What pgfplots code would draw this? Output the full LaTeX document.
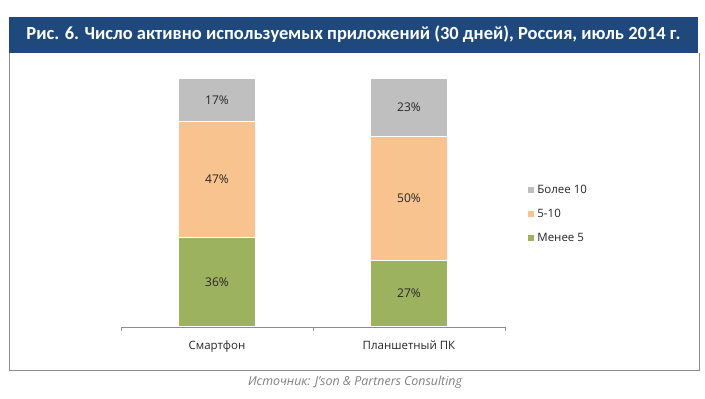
\documentclass[border=0pt]{standalone}
\usepackage{pgfplots}
\pgfplotsset{compat=1.18}
\usepackage{fontspec}
\setmainfont{Open Sans}
\newfontfamily\titlefont{Carlito}
\definecolor{titleblue}{HTML}{1F497D}
\definecolor{cgreen}{HTML}{9DB25F}
\definecolor{corange}{HTML}{F9C38F}
\definecolor{cgray}{HTML}{BFBFBF}
\definecolor{framegray}{HTML}{8C8C8C}
\definecolor{txt}{HTML}{262626}
\begin{document}
\begin{tikzpicture}[x=1pt,y=1pt]
\fill[white] (0,0) rectangle (705,399);
\useasboundingbox (0,0) rectangle (705,399);
% frame and title bar
\draw[framegray, line width=1pt] (9,346) -- (9,28) -- (699,28) -- (699,346);
\fill[titleblue] (9,346) rectangle (698,382);
\node[white, anchor=center] at (353.5,364.5) {\resizebox{654pt}{!}{\titlefont\bfseries\fontsize{18}{20}\selectfont Рис. 6. Число активно используемых приложений (30 дней), Россия, июль 2014 г.}};
% source
\node[gray, anchor=center] at (355,17) {\resizebox{214pt}{!}{\itshape\fontsize{10}{12}\selectfont Источник: J’son \& Partners Consulting}};

\begin{axis}[
  at={(121pt,72pt)}, anchor=south west,
  scale only axis, width=384pt, height=248pt,
  xmin=-0.5, xmax=1.5, ymin=0, ymax=100,
  ybar stacked, bar width=77pt,
  axis y line=none,
  axis x line*=bottom,
  x axis line style={framegray, line width=0.8pt},
  xtick={0,1}, xticklabels={Смартфон, Планшетный ПК},
  major x tick style={draw=none},
  minor xtick={-0.5,0.5,1.5},
  minor x tick style={framegray, line width=0.8pt},
  minor tick length=4pt,
  tick align=outside,
  xticklabel style={font=\fontsize{11.5}{13}\selectfont, text=txt, yshift=-6pt},
  legend style={at={(1.05,0.455)}, anchor=west, draw=none, fill=none,
    font=\fontsize{11.5}{13}\selectfont, text=txt, row sep=10pt,
    /tikz/every even column/.append style={column sep=2pt}},
  legend cell align=left,
  reverse legend,
  legend image code/.code={\fill[#1] (0pt,-3.5pt) rectangle (7pt,3.5pt);},
]
\addplot[fill=cgreen, draw=white, line width=1pt] coordinates {(0,36) (1,27)};
\addplot[fill=corange, draw=white, line width=1pt] coordinates {(0,47) (1,50)};
\addplot[fill=cgray, draw=white, line width=1pt] coordinates {(0,17) (1,23)};
\legend{Менее 5, 5-10, Более 10}
\end{axis}

\begin{axis}[
  at={(121pt,72pt)}, anchor=south west,
  scale only axis, width=384pt, height=248pt,
  xmin=-0.5, xmax=1.5, ymin=0, ymax=100,
  hide axis,
]
\addplot[draw=none, mark=none, nodes near coords, point meta=explicit symbolic,
  every node near coord/.style={anchor=center, text=txt, font=\fontsize{12}{14}\selectfont}]
  table[meta=lab] {
x y lab
0 18 36\%
0 59.5 47\%
0 91.5 17\%
1 13.5 27\%
1 52 50\%
1 88.5 23\%
};
\end{axis}
\end{tikzpicture}
\end{document}
